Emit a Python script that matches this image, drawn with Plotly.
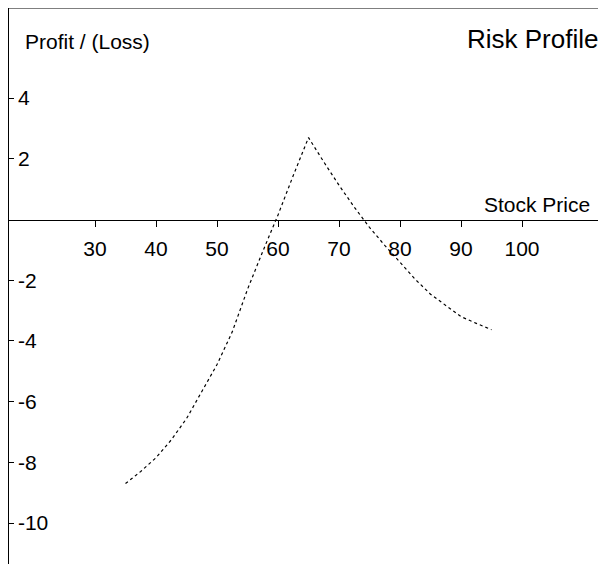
import plotly.graph_objects as go

# Stock price vs. profit/(loss)
price = [35, 37.5, 40, 42.5, 45, 47.5, 50, 52.5, 55, 57.5, 60, 62.5, 65,
         67.5, 70, 72.5, 75, 77.5, 80, 82.5, 85, 87.5, 90, 92.5, 95]
profit = [-8.70, -8.30, -7.85, -7.26, -6.56, -5.68, -4.78, -3.70, -2.30, -1.05, 0.15, 1.45, 2.70,
          1.90, 1.13, 0.41, -0.26, -0.85, -1.42, -1.97, -2.46, -2.84, -3.20, -3.42, -3.63]

x_ticks = [30, 40, 50, 60, 70, 80, 90, 100]
y_ticks = [4, 2, -2, -4, -6, -8, -10]
y_tick_text = ["4", "2", "-2", "-4", "-6", "-8", "-10"]

X_RANGE = [15.9, 113.77]
Y_RANGE = [-11.35, 6.97]
FONT = "Liberation Sans, Arial, sans-serif"

# the page body adds an 8px margin, so the figure is drawn 8px smaller
W, H = 598, 556
L, T = 1, 0
PW, PH = W - L, H - T

fig = go.Figure()
fig.add_trace(go.Scatter(
    x=price, y=profit, mode="lines",
    line=dict(color="black", width=1.2, dash="dot"),
    hoverinfo="skip", showlegend=False,
))

zero_pos = (0 - Y_RANGE[0]) / (Y_RANGE[1] - Y_RANGE[0])
tick_font = dict(family=FONT, size=21, color="black")

fig.update_layout(
    width=W, height=H,
    margin=dict(l=L, r=0, t=T, b=0),
    plot_bgcolor="white", paper_bgcolor="white",
    font=dict(family=FONT, size=21, color="black"),
    showlegend=False,
    xaxis=dict(
        range=X_RANGE, anchor="free", position=zero_pos,
        showline=True, linecolor="black", linewidth=1.2,
        ticks="outside", ticklen=6, tickcolor="black", tickwidth=1.2,
        tickvals=x_ticks, showgrid=False, zeroline=False,
        tickfont=tick_font, ticklabelstandoff=4,
    ),
    yaxis=dict(
        range=Y_RANGE,
        showline=True, linecolor="black", linewidth=1.2,
        ticks="inside", ticklen=5, tickcolor="black", tickwidth=1.2,
        ticklabelposition="inside", tickvals=y_ticks, ticktext=y_tick_text,
        showgrid=False, zeroline=False, tickfont=tick_font,
        ticklabelstandoff=5,
    ),
)

# top border
fig.add_shape(type="line", xref="paper", yref="paper", x0=0, x1=1, y0=1, y1=1,
              line=dict(color="black", width=1.2))

# positions below are in reference-page pixels (plot area starts at 9, 8)
def px(x):
    return (x - 9) / PW


def py(y):
    return 1 - (y - 8) / PH


fig.add_annotation(text="Profit / (Loss)", xref="paper", yref="paper",
                   x=px(23), y=py(42), xanchor="left", yanchor="middle",
                   showarrow=False, font=dict(size=21, color="black"))
fig.add_annotation(text="Risk Profile", xref="paper", yref="paper",
                   x=px(600), y=py(39), xanchor="right", yanchor="middle",
                   showarrow=False, font=dict(size=26, color="black"))
fig.add_annotation(text="Stock Price", xref="paper", yref="paper",
                   x=px(592), y=py(204), xanchor="right", yanchor="middle",
                   showarrow=False, font=dict(size=21, color="black"))

fig.write_html("out.html")
